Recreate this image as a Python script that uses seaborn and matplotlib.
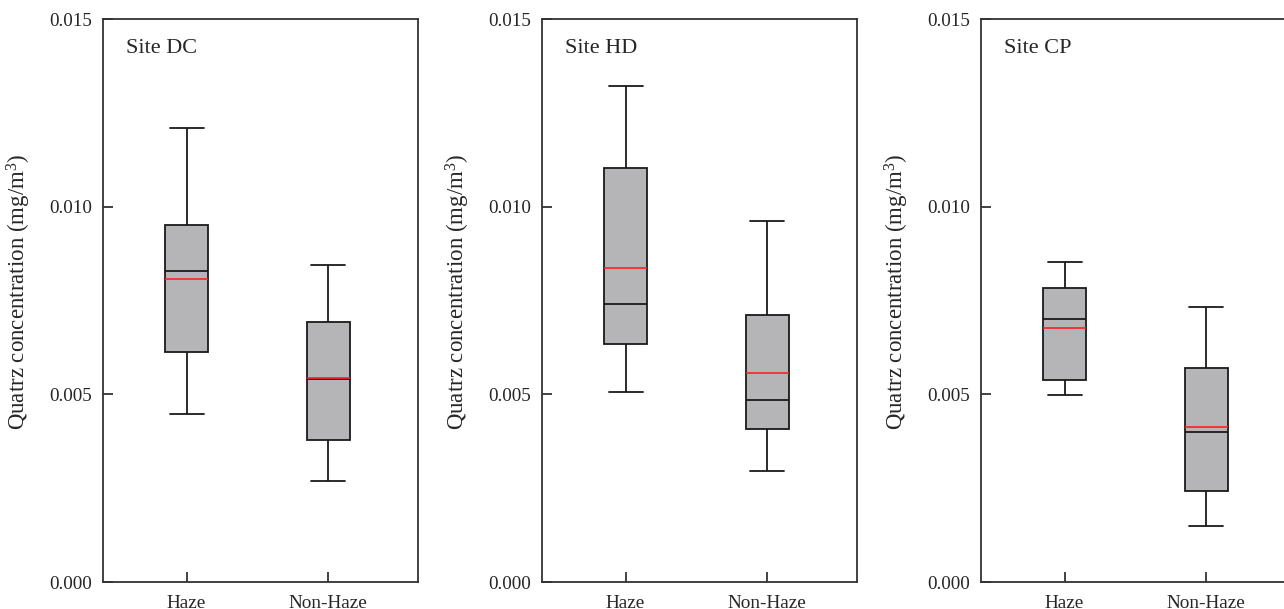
import numpy as np
import pandas as pd
import matplotlib
matplotlib.use("Agg")
import matplotlib.pyplot as plt
import matplotlib.ticker as mticker
import seaborn as sns

# five-number summaries: whisker low, Q1, median, Q3, whisker high
sites = ["Site DC", "Site HD", "Site CP"]
groups = ["Haze", "Non-Haze"]

dc_haze = [0.00447, 0.00612, 0.00829, 0.00950, 0.01210]
dc_nonhaze = [0.00268, 0.00379, 0.00540, 0.00693, 0.00845]
hd_haze = [0.00505, 0.00633, 0.00740, 0.01103, 0.01321]
hd_nonhaze = [0.00297, 0.00409, 0.00486, 0.00711, 0.00963]
cp_haze = [0.00499, 0.00539, 0.00700, 0.00783, 0.00853]
cp_nonhaze = [0.00149, 0.00242, 0.00401, 0.00571, 0.00733]

# means (red lines)
dc_mean = [0.00807, 0.00544]
hd_mean = [0.00836, 0.00558]
cp_mean = [0.00676, 0.00412]

summaries = [(dc_haze, dc_nonhaze), (hd_haze, hd_nonhaze), (cp_haze, cp_nonhaze)]
means = [dc_mean, hd_mean, cp_mean]

sns.set_style("ticks")
plt.rcParams["font.family"] = ["Liberation Serif", "DejaVu Serif"]
plt.rcParams["mathtext.default"] = "regular"

fig = plt.figure(figsize=(12.84, 6.09), dpi=100)
lefts = [0.0802, 0.4221, 0.764]
box_w = 0.3

for left, site, (haze, nonhaze), mean in zip(lefts, sites, summaries, means):
    ax = fig.add_axes([left, 0.0443, 0.245, 0.9245])
    df = pd.DataFrame({
        "group": [groups[0]] * len(haze) + [groups[1]] * len(nonhaze),
        "value": haze + nonhaze,
    })
    sns.boxplot(data=df, x="group", y="value", order=groups, ax=ax,
                whis=(0, 100), width=box_w, color="#b5b5b7", saturation=1,
                linecolor="#1a1a1a", linewidth=1.3, showfliers=False,
                capwidths=box_w * 0.8)
    # mean lines on top of the boxes
    ax.hlines(mean, np.arange(len(groups)) - box_w / 2, np.arange(len(groups)) + box_w / 2,
              color="#ff2020", linewidth=1.2, zorder=5)

    ax.set_xlim(-0.59, 1.63)
    ax.set_ylim(0, 0.015)
    ax.set_yticks([0, 0.005, 0.010, 0.015])
    ax.yaxis.set_major_formatter(mticker.FormatStrFormatter("%.3f"))
    ax.set_xlabel("")
    ax.set_ylabel("Quatrz concentration (mg/m$^3$)", fontsize=16.5)
    ax.yaxis.set_label_coords(-0.222, 0.515)
    ax.tick_params(direction="in", length=7, width=1.2, labelsize=13.8, color="#222222")
    ax.tick_params(axis="x", pad=9)
    ax.tick_params(axis="y", pad=8)
    for sp in ax.spines.values():
        sp.set_color("#333333")
        sp.set_linewidth(1.3)
    ax.text(0.073, 0.948, site, transform=ax.transAxes, fontsize=16, va="center", ha="left")

fig.savefig("out.png", dpi=100)
